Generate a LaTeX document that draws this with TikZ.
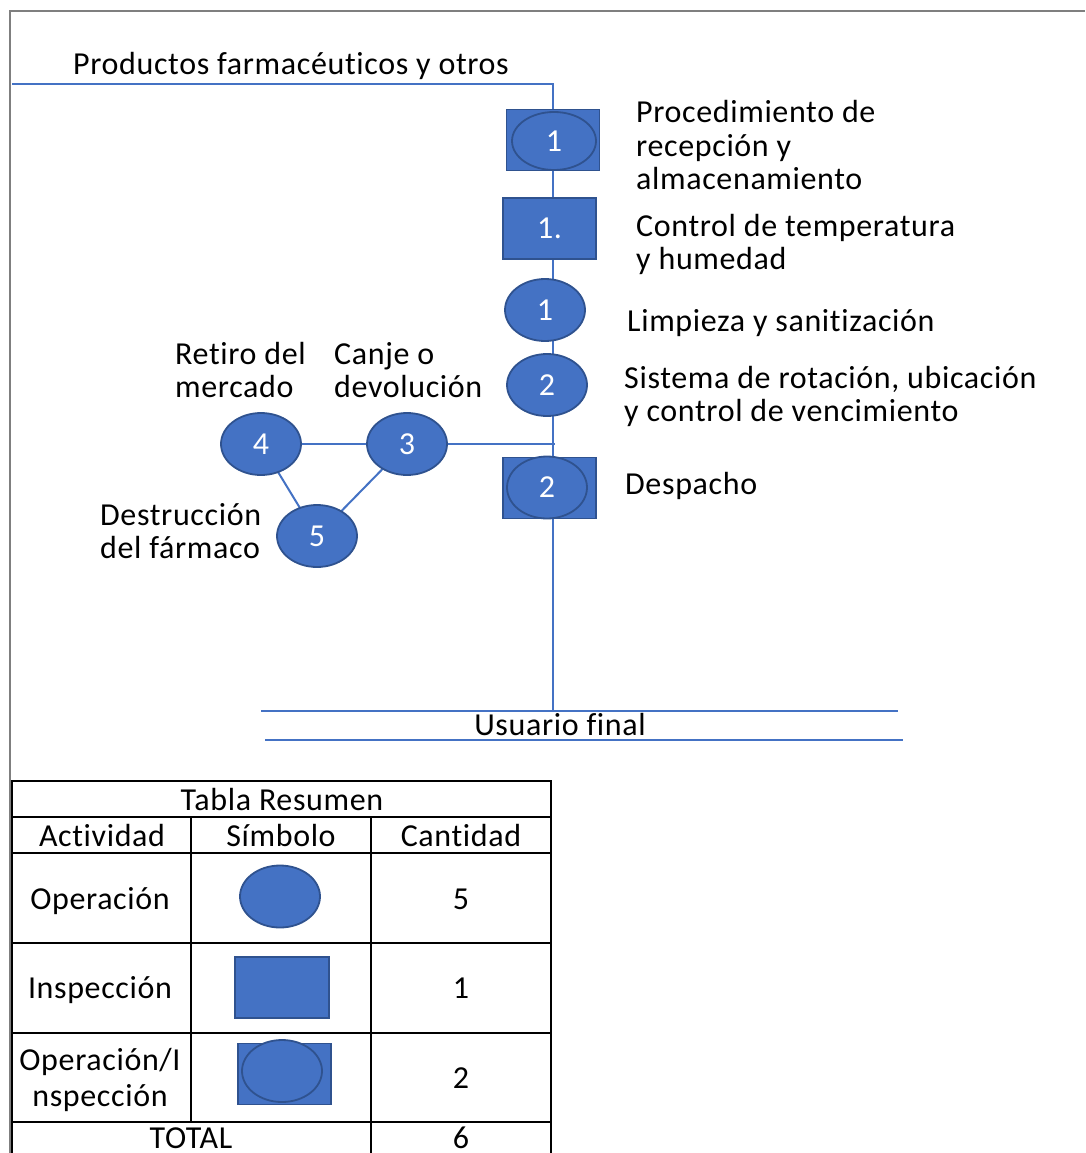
\documentclass[tikz,border=0pt]{standalone}
\usepackage{fontspec}
\setmainfont{Carlito}[LetterSpace=2, Ligatures=NoCommon]
\usetikzlibrary{shapes.geometric}
\definecolor{fillblue}{HTML}{4472C4}
\definecolor{edgeblue}{HTML}{2F528F}
\definecolor{framegray}{HTML}{7F7F7F}
\tikzset{
  txt/.style={inner sep=0pt, anchor=base west, font=\fontsize{32}{33}\selectfont},
  ctxt/.style={inner sep=0pt, anchor=base, font=\fontsize{32}{33}\selectfont},
  flow/.style={draw=fillblue, line width=2pt},
  opnode/.style={ellipse, draw=edgeblue, fill=fillblue, line width=1.8pt, minimum width=80pt, minimum height=62pt, inner sep=0pt, text=white, font=\fontsize{32}{32}\selectfont},
  inspnode/.style={rectangle, draw=edgeblue, fill=fillblue, line width=1.8pt, minimum width=93pt, minimum height=61pt, inner sep=0pt, text=white, font=\fontsize{32}{32}\selectfont},
  grid/.style={draw=black, line width=2.5pt},
}
\begin{document}
\begin{tikzpicture}[x=1pt,y=-1pt]
\useasboundingbox (0,0) rectangle (1085,1153);
\fill[white] (0,0) rectangle (1085,1153);
% outer frame
\draw[framegray, line width=2pt] (10,1153) -- (10,11) -- (1085,11);

% trunk of the process
\coordinate (start) at (12,84);
\coordinate (corner) at (553,84);
\coordinate (join) at (555,444);
\coordinate (trunkend) at (553,711);
\draw[flow] (start) -- (corner) -- (trunkend);

% main flow symbols
\node[inspnode] (r1) at (553,140) {};
\node[opnode, minimum width=84pt, minimum height=58pt] (s1) at (554,141) {1};
\node[inspnode] (s2) at (549.5,228.5) {1.};
\node[opnode] (s3) at (545,310) {1};
\node[opnode] (s4) at (547,385) {2};
\node[inspnode] (r5) at (549.5,488) {};
\node[opnode] (s5) at (547,487.5) {2};

% branch for returns and disposal
\coordinate (p3) at (407,444);
\coordinate (p4) at (261,444);
\coordinate (p5) at (317,536);
\draw[flow] (p3) -- (join);
\draw[flow] (p4) -- (p3);
\draw[flow] (p4) -- (p5);
\draw[flow] (p3) -- (p5);
\node[opnode] (b3) at (p3) {3};
\node[opnode] (b4) at (p4) {4};
\node[opnode] (b5) at (p5) {5};

% labels
\node[txt] (l0) at (73,75) {Productos farmacéuticos y otros};
\node[txt] (l1a) at (636,123) {Procedimiento de};
\node[txt] (l1b) at (636,156) {recepción y};
\node[txt] (l1c) at (636,189) {almacenamiento};
\node[txt] (l2a) at (636,236) {Control de temperatura};
\node[txt] (l2b) at (636,269) {y humedad};
\node[txt] (l3) at (627,331) {Limpieza y sanitización};
\node[txt] (l4a) at (624,388) {Sistema de rotación, ubicación};
\node[txt] (l4b) at (624,421) {y control de vencimiento};
\node[txt] (l5) at (625,494) {Despacho};
\node[txt] (l6a) at (175,364) {Retiro del};
\node[txt] (l6b) at (175,397) {mercado};
\node[txt] (l7a) at (334,364) {Canje o};
\node[txt] (l7b) at (334,397) {devolución};
\node[txt] (l8a) at (100,525) {Destrucción};
\node[txt] (l8b) at (100,558) {del fármaco};

% end user
\coordinate (u1) at (261,711);
\coordinate (u2) at (898,711);
\coordinate (u3) at (265,740);
\coordinate (u4) at (903,740);
\draw[flow] (u1) -- (u2);
\draw[flow] (u3) -- (u4);
\node[ctxt] (user) at (560,735) {Usuario final};

% summary table
\draw[grid] (12,781) rectangle (551,1160);
\draw[grid] (12,817) -- (551,817);
\draw[grid] (12,853) -- (551,853);
\draw[grid] (12,943) -- (551,943);
\draw[grid] (12,1033) -- (551,1033);
\draw[grid] (12,1122) -- (551,1122);
\draw[grid] (191,817) -- (191,1122);
\draw[grid] (371,817) -- (371,1160);
\node[ctxt] (t0) at (282,810) {Tabla Resumen};
\node[ctxt] (h1) at (102,846) {Actividad};
\node[ctxt] (h2) at (281,846) {Símbolo};
\node[ctxt] (h3) at (461,846) {Cantidad};
\node[ctxt] (a1) at (100,909) {Operación};
\node[ctxt] (a2) at (100,998) {Inspección};
\node[ctxt] (a3) at (100,1070) {Operación/I};
\node[ctxt] (a3b) at (100,1106) {nspección};
\node[ctxt] (c1) at (461,909) {5};
\node[ctxt] (c2) at (461,998) {1};
\node[ctxt] (c3) at (461,1088) {2};
\node[ctxt] (tt) at (191,1148) {TOTAL};
\node[ctxt] (tc) at (461,1148) {6};
\node[opnode] (k1) at (280,896.5) {};
\node[inspnode, minimum width=94pt] (k2) at (282,987.5) {};
\node[inspnode] (k3r) at (284.5,1074) {};
\node[opnode] (k3e) at (282,1071) {};
\end{tikzpicture}
\end{document}
